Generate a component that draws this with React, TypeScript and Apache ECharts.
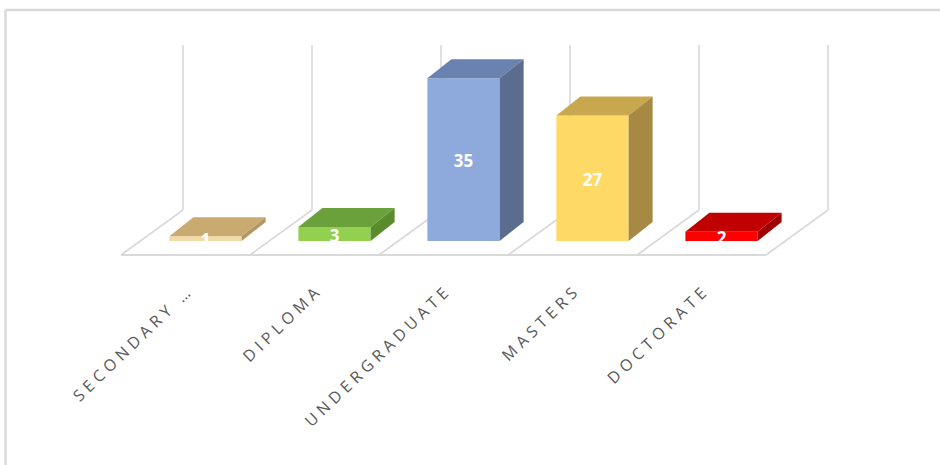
import React, { useEffect, useRef } from 'react';
import * as echarts from 'echarts';

// ---- data ----
const categories: string[] = ['SECONDARY …', 'DIPLOMA', 'UNDERGRADUATE', 'MASTERS', 'DOCTORATE'];
const values: number[] = [1, 3, 35, 27, 2];

// ---- colours (front / top / side face) ----
const frontColors = ['#F3DBA8', '#92D050', '#8EA9DB', '#FFD966', '#FF0000'];
const topColors = ['#C9AB72', '#6BA13A', '#6A82B0', '#C7A84E', '#C00000'];
const sideColors = ['#B39661', '#5A8C2E', '#5A6D8E', '#A68A44', '#A00000'];

// ---- 3D geometry styling (pixel offsets) ----
const BAR_RATIO = 0.56;
const BAR_DX = 24;
const BAR_DY = -19;
const FLOOR_FRONT_DX = -20;
const FLOOR_FRONT_DY = 14;
const FLOOR_BACK_DX = 42;
const FLOOR_BACK_DY = -31;
const WALL_MAX = 35.5;
const LABEL_DX = -15;
const LABEL_DY = 46;
const LETTER_SPACING = 4.6;
const GRID_COLOR = '#D9D9D9';

export default function App() {
  const ref = useRef<HTMLDivElement>(null);

  useEffect(() => {
    if (!ref.current) return;
    const chart = echarts.init(ref.current, undefined, { renderer: 'svg' });

    const barData = values.map((v, i) => [i, v]);
    const boundaries = categories.map((_, i) => i - 0.5).concat([categories.length - 0.5]);
    const floorData = boundaries.map((p, k) => [p, k]);

    const option: any = {
      animation: false,
      grid: { left: 141, right: 154, top: 55, bottom: 224 },
      xAxis: { type: 'value', min: -0.5, max: categories.length - 0.5, show: false },
      yAxis: { type: 'value', min: 0, max: 40, show: false },
      graphic: [
        { type: 'line', shape: { x1: 5.5, y1: 10, x2: 5.5, y2: 465 }, style: { stroke: GRID_COLOR, lineWidth: 2.5 } },
        { type: 'line', shape: { x1: 5.5, y1: 10, x2: 940, y2: 10 }, style: { stroke: GRID_COLOR, lineWidth: 2.5 } },
      ],
      series: [
        {
          type: 'custom',
          silent: true,
          z: 1,
          data: floorData,
          renderItem: (params: any, api: any) => {
            const p = api.value(0) as number;
            const k = api.value(1) as number;
            const b = api.coord([p, 0]);
            const front = [b[0] + FLOOR_FRONT_DX, b[1] + FLOOR_FRONT_DY];
            const back = [b[0] + FLOOR_BACK_DX, b[1] + FLOOR_BACK_DY];
            const wallTop = api.coord([p, WALL_MAX])[1] + FLOOR_BACK_DY;
            const st = { stroke: GRID_COLOR, lineWidth: 1.6, fill: null };
            const children: any[] = [
              { type: 'line', shape: { x1: back[0], y1: back[1], x2: front[0], y2: front[1] }, style: st },
              { type: 'line', shape: { x1: back[0], y1: back[1], x2: back[0], y2: wallTop }, style: st },
            ];
            if (k < boundaries.length - 1) {
              const nb = api.coord([p + 1, 0]);
              children.push({
                type: 'line',
                shape: { x1: front[0], y1: front[1], x2: nb[0] + FLOOR_FRONT_DX, y2: nb[1] + FLOOR_FRONT_DY },
                style: { stroke: GRID_COLOR, lineWidth: 2.2 },
              });
            }
            return { type: 'group', children };
          },
        },
        {
          type: 'custom',
          silent: true,
          z: 2,
          data: barData,
          renderItem: (params: any, api: any) => {
            const i = api.value(0) as number;
            const v = api.value(1) as number;
            const base = api.coord([i, 0]);
            const top = api.coord([i, v]);
            const bw = api.size([1, 0])[0] * BAR_RATIO;
            const xl = base[0] - bw / 2;
            const xr = base[0] + bw / 2;
            const yb = base[1];
            const yt = top[1];
            return {
              type: 'group',
              children: [
                {
                  type: 'polygon',
                  shape: { points: [[xl, yt], [xr, yt], [xr, yb], [xl, yb]] },
                  style: { fill: frontColors[i] },
                },
                {
                  type: 'polygon',
                  shape: { points: [[xl, yt], [xr, yt], [xr + BAR_DX, yt + BAR_DY], [xl + BAR_DX, yt + BAR_DY]] },
                  style: { fill: topColors[i] },
                },
                {
                  type: 'polygon',
                  shape: { points: [[xr, yt], [xr + BAR_DX, yt + BAR_DY], [xr + BAR_DX, yb + BAR_DY], [xr, yb]] },
                  style: { fill: sideColors[i] },
                },
                {
                  type: 'text',
                  x: base[0],
                  y: (yt + yb) / 2 + 1,
                  style: {
                    text: String(v),
                    fill: '#FFFFFF',
                    font: 'bold 17px "Open Sans"',
                    align: 'center',
                    verticalAlign: 'middle',
                  },
                },
                {
                  type: 'text',
                  x: base[0] + LABEL_DX,
                  y: base[1] + LABEL_DY,
                  rotation: (44 * Math.PI) / 180,
                  style: {
                    text: categories[i],
                    fill: '#595959',
                    font: '16px "Open Sans"',
                    align: 'right',
                    verticalAlign: 'middle',
                  },
                },
              ],
            };
          },
        },
      ],
    };

    chart.setOption(option);

    const applySpacing = () => {
      if (!ref.current) return;
      ref.current.querySelectorAll('text').forEach((t) => {
        if (categories.includes((t.textContent || '').trim())) {
          t.setAttribute('letter-spacing', String(LETTER_SPACING));
        }
      });
    };
    applySpacing();
    chart.on('finished', applySpacing);
    const t1 = setTimeout(applySpacing, 50);
    const t2 = setTimeout(applySpacing, 300);

    return () => {
      clearTimeout(t1);
      clearTimeout(t2);
      chart.dispose();
    };
  }, []);

  return (
    <div
      ref={ref}
      style={{ position: 'fixed', left: 0, top: 0, width: 940, height: 465, background: '#FFFFFF' }}
    />
  );
}
